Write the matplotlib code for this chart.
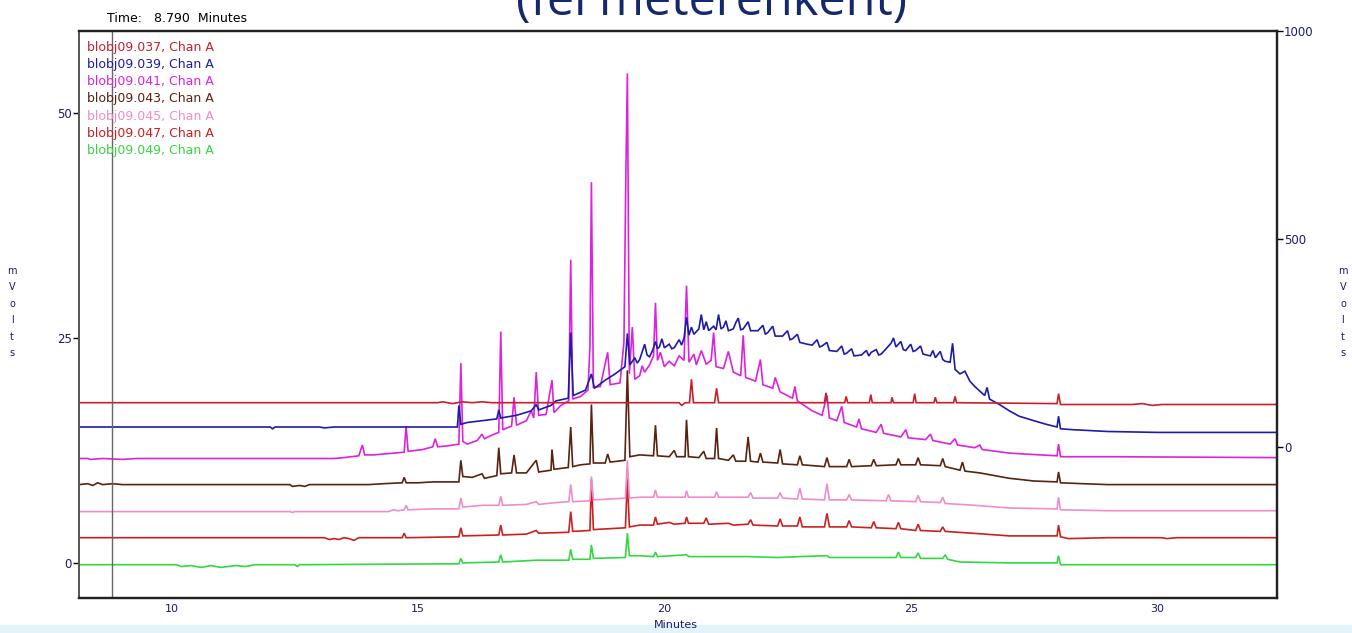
import matplotlib
matplotlib.use("Agg")
import matplotlib.pyplot as plt

# traces: (minutes, mVolts)
names = ["blobj09.037, Chan A", "blobj09.039, Chan A", "blobj09.041, Chan A",
         "blobj09.043, Chan A", "blobj09.045, Chan A", "blobj09.047, Chan A",
         "blobj09.049, Chan A"]
colors = ["#c8202a", "#1c1ca8", "#dd22dd", "#5a2210", "#f08cc8", "#cc2020", "#33d840"]

red1_pts = [(8.12, 17.8), (15.4, 17.8), (15.5, 17.9), (15.7, 17.7), (15.9, 17.9), (16.1, 17.8),
            (16.3, 17.9), (16.5, 17.8), (20.3, 17.8), (20.35, 17.5), (20.42, 17.8), (20.51, 17.8),
            (20.55, 20.4), (20.59, 17.8), (21.02, 17.8), (21.06, 19.4), (21.1, 17.8), (23.25, 17.8),
            (23.28, 18.9), (23.31, 17.8), (23.66, 17.8), (23.69, 18.5), (23.72, 17.8), (24.16, 17.8),
            (24.19, 18.7), (24.22, 17.8), (24.6, 17.8), (24.62, 18.4), (24.65, 17.8), (25.05, 17.8),
            (25.08, 18.8), (25.11, 17.8), (25.47, 17.8), (25.5, 18.4), (25.53, 17.8), (25.87, 17.8),
            (25.9, 18.5), (25.93, 17.8), (27.97, 17.7), (28.0, 18.8), (28.04, 17.6), (29.5, 17.6),
            (29.7, 17.7), (29.9, 17.5), (30.1, 17.6), (32.43, 17.6)]

blue_pts = [(8.12, 15.1), (12.0, 15.1), (12.05, 14.9), (12.1, 15.1), (13.0, 15.1), (13.1, 15.0),
            (13.3, 15.1), (15.8, 15.1), (15.83, 17.5), (15.87, 15.4), (16.0, 15.6), (16.3, 15.8),
            (16.6, 16.0), (16.64, 17.0), (16.68, 16.1), (17.0, 16.4), (17.3, 16.9), (17.4, 17.6),
            (17.45, 17.0), (17.7, 17.5), (17.8, 18.0), (18.05, 18.3), (18.1, 25.6), (18.15, 18.6),
            (18.4, 19.2), (18.52, 21.0), (18.58, 19.4), (18.8, 20.3), (19.0, 21.0), (19.2, 21.8),
            (19.25, 25.5), (19.3, 22.0), (19.4, 22.8), (19.45, 22.2), (19.5, 22.6), (19.6, 24.3),
            (19.65, 23.1), (19.7, 22.9), (19.76, 23.6), (19.82, 24.6), (19.86, 23.8), (19.9, 24.0),
            (19.95, 24.9), (20.0, 23.9), (20.1, 24.3), (20.15, 23.8), (20.2, 23.9), (20.3, 24.8),
            (20.35, 24.2), (20.4, 25.0), (20.45, 27.3), (20.5, 25.3), (20.55, 26.2), (20.6, 25.4),
            (20.7, 26.0), (20.75, 27.6), (20.8, 25.9), (20.85, 26.8), (20.9, 25.8), (21.0, 26.3),
            (21.05, 25.9), (21.1, 27.6), (21.15, 26.0), (21.2, 26.2), (21.25, 26.9), (21.3, 25.8),
            (21.4, 26.0), (21.45, 26.7), (21.5, 27.2), (21.55, 25.9), (21.6, 26.0), (21.7, 26.8),
            (21.75, 25.8), (21.9, 25.8), (22.0, 26.4), (22.05, 25.4), (22.1, 25.6), (22.2, 26.3),
            (22.25, 25.2), (22.4, 25.2), (22.5, 25.8), (22.55, 24.8), (22.6, 24.9), (22.7, 25.4),
            (22.75, 24.5), (22.9, 24.3), (23.0, 24.2), (23.1, 24.8), (23.15, 24.0), (23.2, 24.1),
            (23.3, 24.5), (23.35, 23.6), (23.5, 23.5), (23.6, 24.1), (23.65, 23.2), (23.7, 23.3),
            (23.8, 23.8), (23.85, 23.0), (24.0, 23.1), (24.1, 23.6), (24.15, 23.0), (24.2, 23.4),
            (24.3, 23.7), (24.35, 23.1), (24.4, 23.2), (24.5, 23.8), (24.6, 24.4), (24.65, 25.0),
            (24.7, 24.0), (24.8, 24.6), (24.85, 23.7), (24.9, 23.6), (25.0, 24.3), (25.05, 23.5),
            (25.1, 23.6), (25.2, 24.1), (25.25, 23.2), (25.4, 23.0), (25.45, 23.6), (25.5, 22.8),
            (25.6, 23.5), (25.65, 22.6), (25.7, 22.4), (25.8, 22.3), (25.85, 24.4), (25.9, 21.5),
            (26.0, 21.0), (26.1, 21.3), (26.2, 20.2), (26.3, 19.6), (26.5, 18.6), (26.55, 19.5),
            (26.6, 18.2), (26.8, 17.6), (27.0, 16.9), (27.2, 16.3), (27.5, 15.8), (27.75, 15.4),
            (27.97, 15.1), (28.0, 16.3), (28.04, 14.9), (28.3, 14.8), (29.0, 14.6), (30.0, 14.5),
            (32.43, 14.5)]

magenta_pts = [(8.12, 11.6), (8.3, 11.6), (8.35, 11.5), (8.6, 11.6), (9.0, 11.5), (9.3, 11.6),
               (13.3, 11.6), (13.5, 11.7), (13.8, 11.9), (13.87, 13.1), (13.92, 12.0), (14.1, 12.0),
               (14.5, 12.2), (14.72, 12.3), (14.76, 15.2), (14.8, 12.4), (15.1, 12.6), (15.3, 12.9),
               (15.35, 13.8), (15.4, 12.9), (15.6, 13.0), (15.83, 13.2), (15.87, 22.2), (15.91, 13.5),
               (16.0, 13.2), (16.2, 13.6), (16.3, 14.3), (16.35, 13.8), (16.5, 14.2), (16.64, 14.5),
               (16.68, 25.7), (16.72, 14.8), (16.9, 15.2), (16.95, 18.4), (17.0, 15.3), (17.2, 15.8),
               (17.3, 16.9), (17.35, 16.1), (17.4, 21.2), (17.45, 16.4), (17.6, 16.5), (17.72, 20.3),
               (17.76, 16.7), (17.9, 17.5), (18.06, 18.0), (18.1, 33.7), (18.14, 18.2), (18.3, 18.5),
               (18.45, 19.2), (18.49, 24.0), (18.52, 42.3), (18.56, 19.5), (18.7, 19.6), (18.85, 23.4),
               (18.9, 19.8), (19.1, 20.0), (19.18, 24.5), (19.22, 43.7), (19.25, 54.4), (19.29, 21.0),
               (19.35, 26.2), (19.4, 20.4), (19.5, 20.8), (19.55, 21.9), (19.6, 21.2), (19.7, 22.0),
               (19.78, 23.0), (19.82, 28.9), (19.86, 22.5), (19.92, 23.4), (20.0, 21.8), (20.1, 22.4),
               (20.2, 21.9), (20.3, 23.0), (20.4, 22.5), (20.45, 30.8), (20.5, 22.3), (20.6, 23.2),
               (20.65, 22.0), (20.75, 23.6), (20.85, 22.1), (20.95, 22.5), (21.0, 25.6), (21.05, 21.8),
               (21.2, 21.6), (21.3, 23.5), (21.4, 21.2), (21.55, 20.8), (21.6, 25.3), (21.65, 20.6),
               (21.85, 20.2), (21.95, 22.6), (22.0, 19.8), (22.2, 19.4), (22.25, 20.6), (22.35, 19.0),
               (22.6, 18.3), (22.65, 19.6), (22.7, 18.0), (23.0, 16.9), (23.2, 16.4), (23.3, 18.6),
               (23.35, 16.1), (23.5, 15.8), (23.6, 17.4), (23.65, 15.6), (23.9, 15.1), (23.95, 16.0),
               (24.0, 14.9), (24.3, 14.5), (24.4, 15.4), (24.45, 14.4), (24.8, 14.0), (24.9, 14.8),
               (24.95, 13.9), (25.3, 13.7), (25.4, 14.3), (25.45, 13.6), (25.8, 13.2), (25.9, 13.8),
               (25.95, 13.1), (26.3, 12.8), (26.4, 13.1), (26.45, 12.6), (27.0, 12.2), (27.3, 12.1),
               (27.97, 11.9), (28.0, 13.2), (28.04, 11.8), (29.0, 11.8), (32.43, 11.7)]

brown_pts = [(8.12, 8.7), (8.3, 8.8), (8.4, 8.6), (8.5, 8.9), (8.6, 8.7), (8.8, 8.8), (9.0, 8.7),
             (12.4, 8.7), (12.45, 8.5), (12.6, 8.6), (12.7, 8.5), (12.8, 8.7), (14.0, 8.7), (14.3, 8.8),
             (14.68, 8.9), (14.72, 9.5), (14.76, 8.9), (15.0, 8.9), (15.3, 9.0), (15.83, 9.0),
             (15.87, 11.4), (15.91, 9.6), (16.1, 9.5), (16.3, 9.9), (16.35, 9.4), (16.6, 9.7),
             (16.64, 12.8), (16.68, 9.9), (16.9, 10.0), (16.95, 12.0), (17.0, 10.0), (17.2, 10.0),
             (17.4, 11.4), (17.45, 10.1), (17.7, 10.3), (17.72, 12.6), (17.76, 10.4), (18.05, 10.6),
             (18.1, 15.1), (18.14, 10.7), (18.3, 10.9), (18.49, 11.0), (18.52, 17.6), (18.56, 11.1),
             (18.8, 11.1), (18.85, 12.1), (18.9, 11.2), (19.2, 11.4), (19.25, 21.4), (19.3, 11.8),
             (19.5, 12.0), (19.78, 11.9), (19.82, 15.3), (19.86, 11.9), (20.1, 11.8), (20.2, 12.5),
             (20.25, 11.8), (20.42, 11.8), (20.45, 15.9), (20.49, 11.8), (20.7, 11.7), (20.8, 12.4),
             (20.85, 11.6), (21.02, 11.6), (21.06, 15.0), (21.1, 11.6), (21.3, 11.4), (21.4, 12.0),
             (21.45, 11.3), (21.65, 11.3), (21.7, 14.0), (21.75, 11.3), (21.9, 11.2), (21.95, 12.2),
             (22.0, 11.2), (22.3, 11.1), (22.35, 12.6), (22.4, 11.0), (22.7, 10.9), (22.75, 11.9),
             (22.8, 10.9), (23.25, 10.7), (23.3, 11.7), (23.35, 10.7), (23.7, 10.7), (23.75, 11.5),
             (23.8, 10.7), (24.2, 10.8), (24.25, 11.5), (24.3, 10.8), (24.7, 10.9), (24.75, 11.6),
             (24.8, 10.9), (25.1, 10.9), (25.15, 11.7), (25.2, 10.9), (25.6, 10.8), (25.65, 11.6),
             (25.7, 10.7), (26.0, 10.3), (26.05, 11.2), (26.1, 10.2), (26.4, 10.0), (27.0, 9.4),
             (27.5, 9.1), (27.97, 9.0), (28.0, 10.1), (28.04, 8.9), (28.5, 8.8), (29.0, 8.7),
             (32.43, 8.7)]

pink_pts = [(8.12, 5.7), (12.4, 5.7), (12.45, 5.6), (12.5, 5.7), (14.4, 5.7), (14.5, 5.9), (14.6, 5.8),
            (14.72, 5.9), (14.76, 6.4), (14.8, 5.9), (15.3, 6.0), (15.83, 6.0), (15.87, 7.2),
            (15.91, 6.2), (16.3, 6.4), (16.64, 6.4), (16.68, 7.4), (16.72, 6.4), (17.2, 6.5),
            (17.4, 6.8), (17.45, 6.5), (17.8, 6.7), (18.06, 6.8), (18.1, 8.7), (18.14, 6.8),
            (18.49, 6.9), (18.52, 9.6), (18.56, 7.0), (18.9, 7.1), (19.21, 7.2), (19.25, 11.4),
            (19.29, 7.2), (19.5, 7.3), (19.78, 7.3), (19.82, 8.1), (19.86, 7.3), (20.42, 7.3),
            (20.45, 8.0), (20.49, 7.3), (21.02, 7.3), (21.06, 7.9), (21.1, 7.3), (21.7, 7.3),
            (21.75, 7.8), (21.8, 7.2), (22.3, 7.2), (22.35, 7.8), (22.4, 7.2), (22.7, 7.1),
            (22.75, 8.3), (22.8, 7.1), (23.25, 7.0), (23.3, 8.8), (23.35, 7.0), (23.7, 7.0),
            (23.75, 7.6), (23.8, 7.0), (24.5, 6.9), (24.55, 7.6), (24.6, 6.9), (25.1, 6.8),
            (25.15, 7.5), (25.2, 6.8), (25.6, 6.7), (25.65, 7.3), (25.7, 6.6), (26.3, 6.4),
            (27.0, 6.1), (27.97, 6.0), (28.0, 7.3), (28.04, 5.9), (29.0, 5.8), (32.43, 5.8)]

red2_pts = [(8.12, 2.8), (13.1, 2.8), (13.2, 2.6), (13.3, 2.7), (13.4, 2.6), (13.5, 2.8), (13.6, 2.7),
            (13.7, 2.5), (13.8, 2.8), (14.68, 2.8), (14.72, 3.3), (14.76, 2.8), (15.83, 2.9),
            (15.87, 3.9), (15.91, 3.0), (16.64, 3.1), (16.68, 4.2), (16.72, 3.1), (17.2, 3.2),
            (17.4, 3.6), (17.45, 3.3), (18.06, 3.4), (18.1, 5.7), (18.14, 3.5), (18.49, 3.6),
            (18.52, 9.3), (18.56, 3.7), (19.21, 3.9), (19.25, 9.4), (19.29, 4.0), (19.5, 4.2),
            (19.78, 4.2), (19.82, 5.1), (19.86, 4.3), (20.1, 4.5), (20.2, 4.3), (20.42, 4.4),
            (20.45, 5.1), (20.49, 4.4), (20.8, 4.4), (20.85, 5.0), (20.9, 4.3), (21.3, 4.4),
            (21.4, 4.2), (21.7, 4.3), (21.75, 4.8), (21.8, 4.2), (22.3, 4.1), (22.35, 4.9),
            (22.4, 4.1), (22.7, 4.1), (22.75, 5.1), (22.8, 4.0), (23.25, 4.0), (23.3, 5.5),
            (23.35, 4.0), (23.7, 4.0), (23.75, 4.7), (23.8, 4.0), (24.2, 3.9), (24.25, 4.6),
            (24.3, 3.9), (24.7, 3.8), (24.75, 4.5), (24.8, 3.8), (25.1, 3.6), (25.15, 4.3),
            (25.2, 3.6), (25.6, 3.5), (25.65, 4.0), (25.7, 3.5), (26.5, 3.2), (27.0, 3.0),
            (27.97, 3.0), (28.0, 4.2), (28.04, 2.9), (28.2, 2.7), (29.0, 2.8), (30.1, 2.8),
            (30.2, 2.7), (30.4, 2.8), (32.43, 2.8)]

green_pts = [(8.12, -0.2), (10.1, -0.2), (10.2, -0.4), (10.4, -0.3), (10.6, -0.5), (10.8, -0.3),
             (11.0, -0.5), (11.3, -0.3), (11.5, -0.4), (11.7, -0.2), (12.5, -0.2), (12.55, -0.4),
             (12.6, -0.2), (15.83, -0.1), (15.87, 0.5), (15.91, 0.0), (16.64, 0.1), (16.68, 0.9),
             (16.72, 0.1), (17.4, 0.3), (18.06, 0.3), (18.1, 1.5), (18.14, 0.4), (18.49, 0.4),
             (18.52, 2.0), (18.56, 0.5), (19.21, 0.6), (19.25, 3.3), (19.29, 0.8), (19.5, 0.8),
             (19.78, 0.7), (19.82, 1.2), (19.86, 0.7), (20.45, 0.9), (20.5, 0.7), (21.1, 0.7),
             (21.7, 0.7), (22.3, 0.6), (22.75, 0.7), (23.3, 0.8), (23.35, 0.6), (24.7, 0.6),
             (24.75, 1.2), (24.8, 0.6), (25.1, 0.6), (25.15, 1.1), (25.2, 0.5), (25.65, 0.5),
             (25.7, 0.9), (25.75, 0.4), (26.0, 0.1), (27.0, 0.0), (27.97, 0.0), (28.0, 0.8),
             (28.04, -0.2), (32.43, -0.2)]

traces = [red1_pts, blue_pts, magenta_pts, brown_pts, pink_pts, red2_pts, green_pts]

x_ticks = [10, 15, 20, 25, 30]
left_ticks = [0, 25, 50]
right_ticks = [0, 500, 1000]
cursor_time = 8.79

navy = "#1a1a6e"

fig = plt.figure(figsize=(13.52, 6.33), dpi=100)
ax = fig.add_axes([0.0584, 0.0553, 0.886, 0.8957])

for pts, c in reversed(list(zip(traces, colors))):
    xs = [p[0] for p in pts]
    ys = [p[1] for p in pts]
    ax.plot(xs, ys, color=c, lw=1.2, solid_joinstyle="miter")

ax.axvline(cursor_time, color="#666666", lw=1.0)

ax.set_xlim(8.12, 32.43)
ax.set_ylim(-3.9, 59.1)
ax.set_xticks(x_ticks)
ax.set_yticks(left_ticks)
ax.tick_params(axis="x", length=0, pad=4, labelsize=8, labelcolor=navy)
ax.tick_params(axis="y", length=4, width=1, pad=1, labelsize=8.5, labelcolor=navy, direction="out")

ax2 = ax.twinx()
ax2.set_ylim(-363, 1000)
ax2.set_yticks(right_ticks)
ax2.tick_params(axis="y", length=4, width=1, pad=1, labelsize=8.5, labelcolor=navy, direction="out")

for a in (ax, ax2):
    for side in ["top", "bottom", "right"]:
        a.spines[side].set_color("#222222")
        a.spines[side].set_linewidth(1.6)
    a.spines["left"].set_color("#555555")
    a.spines["left"].set_linewidth(1.2)

# legend text, coloured per trace
for i, (n, c) in enumerate(zip(names, colors)):
    fig.text(87 / 1352, 1 - (47 + i * 17.3) / 633, n, color=c, fontsize=9,
             va="center", ha="left", family="DejaVu Sans")

fig.text(107 / 1352, 1 - 18 / 633, "Time:   8.790  Minutes", fontsize=9, va="center", ha="left")
fig.text(676 / 1352, 1 - 625 / 633, "Minutes", fontsize=8, color=navy, va="center", ha="center")
fig.text(12 / 1352, 1 - 312 / 633, "\n".join("mVolts"), fontsize=7, color=navy,
         va="center", ha="center", linespacing=1.8)
fig.text(1343 / 1352, 1 - 312 / 633, "\n".join("mVolts"), fontsize=7, color=navy,
         va="center", ha="center", linespacing=1.8)

# slide title, clipped at the top edge like the source
fig.text(712 / 1352, 1 - 15 / 633, "(fél méterenként)", fontsize=35, color="#14286b",
         va="baseline", ha="center", family="Open Sans")

# light slide background band at the bottom
fig.patches.append(plt.Rectangle((0, 0), 1, 8 / 633, transform=fig.transFigure,
                                 color="#e4f2fa", zorder=-1))

fig.savefig("out.png", dpi=100)
